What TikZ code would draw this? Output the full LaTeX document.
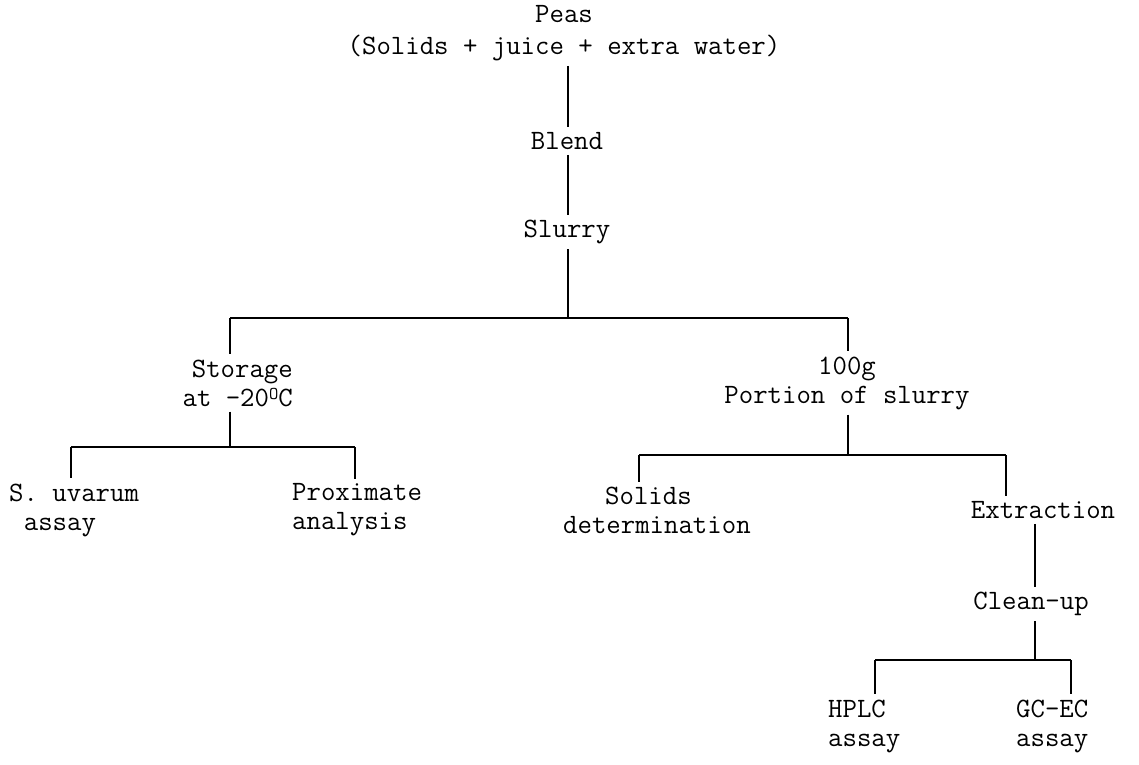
\documentclass[tikz,border=0pt]{standalone}
\usepackage{fontspec}
\newcommand{\degO}{\raisebox{0.55ex}{\fontsize{18}{18}\selectfont O}}
\begin{document}
\begin{tikzpicture}[x=1pt,y=-1pt,
  lbl/.style={inner xsep=0pt, inner ysep=5pt, font=\ttfamily\fontsize{28}{29}\selectfont},
  conn/.style={line width=1.8pt}]
\useasboundingbox (0,0) rectangle (1139,764);
% nodes
\node[lbl, align=center, font=\ttfamily\fontsize{28}{32}\selectfont] (peas) at (564,33) {Peas\\(Solids + juice + extra water)};
\node[lbl] (blend) at (567,141) {Blend};
\node[lbl] (slurry) at (567,232) {Slurry};
\node[lbl, align=right, anchor=east] (storage) at (293,383) {Storage\\at -20\degO C};
\node[lbl, align=center] (hundred) at (847,383) {100g\\Portion of slurry};
\node[lbl, align=left, anchor=west] (uvarum) at (9,510) {S. uvarum\\\hspace*{0.525em}assay};
\node[lbl, align=left, anchor=west] (prox) at (292,510) {Proximate\\analysis};
\node[lbl, align=left, anchor=west] (solids) at (563,510) {\hspace*{1.5em}Solids\\determination};
\node[lbl] (extract) at (1043,510) {Extraction};
\node[lbl] (clean) at (1031,604) {Clean-up};
\node[lbl, align=left, anchor=west] (hplc) at (828,726) {HPLC\\assay};
\node[lbl, align=left, anchor=west] (gcec) at (1016,726) {GC-EC\\assay};
% junctions
\coordinate (j1) at (568,318); \coordinate (j1l) at (230,318); \coordinate (j1r) at (848,318);
\coordinate (j2) at (230,447); \coordinate (j2l) at (71,447); \coordinate (j2r) at (355,447);
\coordinate (j3) at (848,455); \coordinate (j3l) at (639,455); \coordinate (j3r) at (1006,455);
\coordinate (j4) at (1035,660); \coordinate (j4l) at (875,660); \coordinate (j4r) at (1071,660);
% connectors
\draw[conn] (peas.south -| j1) -- (blend.north -| j1);
\draw[conn] (blend.south -| j1) -- (slurry.north -| j1);
\draw[conn] (slurry.south -| j1) -- (j1);
\draw[conn] (j1l) -- (j1r);
\draw[conn] (j1l) -- (j1l |- storage.north);
\draw[conn] (j1r) -- (j1r |- hundred.north);
\draw[conn] (storage.south -| j2) -- (j2);
\draw[conn] (j2l) -- (j2r);
\draw[conn] (j2l) -- (j2l |- uvarum.north);
\draw[conn] (j2r) -- (j2r |- prox.north);
\draw[conn] (hundred.south -| j3) -- (j3);
\draw[conn] (j3l) -- (j3r);
\draw[conn] (j3l) -- (j3l |- solids.north);
\draw[conn] (j3r) -- (j3r |- extract.north);
\draw[conn] (extract.south -| j4) -- (clean.north -| j4);
\draw[conn] (clean.south -| j4) -- (j4);
\draw[conn] (j4l) -- (j4r);
\draw[conn] (j4l) -- (j4l |- hplc.north);
\draw[conn] (j4r) -- (j4r |- gcec.north);
\end{tikzpicture}
\end{document}
